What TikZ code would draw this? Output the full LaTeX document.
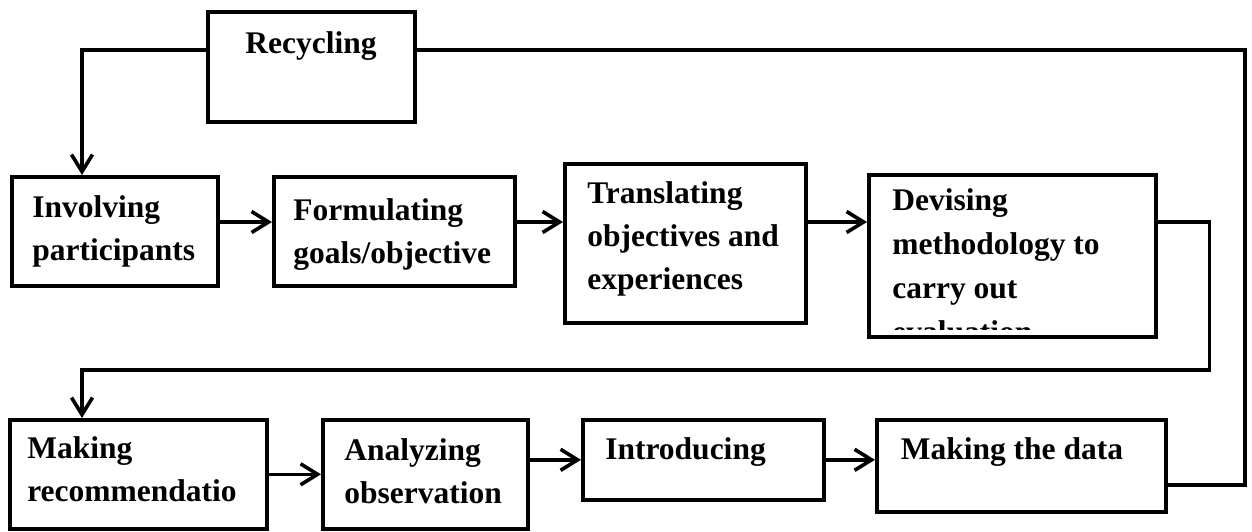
\documentclass[tikz,border=0pt]{standalone}
\usepackage{fontspec}
\setmainfont{Liberation Serif}
\usetikzlibrary{arrows.meta}

\begin{document}
\begin{tikzpicture}[x=1pt,y=-1pt,
	stage/.style={draw, line width=3.6pt, anchor=north west, inner ysep=0pt, align=flush left,
		font=\bfseries\fontsize{31.5}{43}\selectfont},
	flow/.style={line width=3.6pt, -{Straight Barb[length=17pt,width=21pt]}},
	link/.style={line width=3.6pt}]
	\useasboundingbox (0,0) rectangle (1252,531);
	%Levels of the connectors
	\coordinate (top) at (1245,50);
	\coordinate (rowone) at (0,222);
	\coordinate (back) at (82,370);
	\coordinate (rowtwo) at (0,485);

	%Recycling box at the top
	\node (rec) [stage, minimum width=207pt, minimum height=110pt, inner xsep=37.5pt,
		text width=132pt, text height=41.5pt, text depth=68.5pt] at (206,10) {Recycling};

	%First row
	\node (inv) [stage, minimum width=206pt, minimum height=109pt, inner xsep=20.5pt,
		text width=165pt, text height=40.5pt, text depth=68.5pt] at (10,175) {Involving\\participants};
	\node (form) [stage, minimum width=241pt, minimum height=109pt, inner xsep=19.5pt,
		text width=202pt, text height=44pt, text depth=65pt] at (272,175) {Formulating\\goals/objective};
	\node (tra) [stage, minimum width=241pt, minimum height=159pt, inner xsep=22.5pt,
		text width=196pt, text height=39.5pt, text depth=119.5pt] at (563,162) {Translating\\objectives and\\experiences};
	\node (dev) [stage, minimum width=287pt, minimum height=162pt] at (867,173) {};
	%Text of the last box runs out of it
	\begin{scope}
		\clip ([xshift=3.6pt,yshift=-3.6pt]dev.north west) rectangle ([xshift=-3.6pt,yshift=9.6pt]dev.south east);
		\node (devtext) [stage, draw=none, inner xsep=23.5pt, text width=240pt, text height=35.5pt,
			font=\bfseries\fontsize{31.5}{44}\selectfont] at (dev.north west) {Devising\\methodology to\\carry out\\evaluation};
	\end{scope}

	%Second row
	\node (mrec) [stage, minimum width=257pt, minimum height=109pt, inner xsep=17.5pt,
		text width=222pt, text height=38.5pt, text depth=70.5pt] at (8,418) {Making\\recommendatio};
	\node (ana) [stage, minimum width=205pt, minimum height=109pt, inner xsep=21.5pt,
		text width=162pt, text height=40.5pt, text depth=68.5pt] at (321,418) {Analyzing\\observation};
	\node (intro) [stage, minimum width=241pt, minimum height=80pt, inner xsep=22.5pt,
		text width=196pt, text height=39.5pt, text depth=40.5pt] at (581,418) {Introducing};
	\node (mdata) [stage, minimum width=289pt, minimum height=92pt, inner xsep=24pt,
		text width=241pt, text height=39.5pt, text depth=52.5pt] at (875,418) {Making the data};

	%Arrows of the first row
	\draw [flow] (inv.east |- rowone) -- (form.west |- rowone);
	\draw [flow] (form.east |- rowone) -- (tra.west |- rowone);
	\draw [flow] (tra.east |- rowone) -- (dev.west |- rowone);
	%Back to the second row
	\draw [flow] (dev.east |- rowone) -- ++(52,0) |- (back) -- (back |- mrec.north);

	%Arrows of the second row
	\draw [flow] (mrec.east) -- (ana.west);
	\draw [flow] (ana.east |- intro.west) -- (intro.west);
	\draw [flow] (intro.east) -- (mdata.west |- intro.east);

	%Loop through recycling
	\draw [link] (mdata.east |- rowtwo) -| (top) -- (rec.east |- top);
	\draw [flow] (rec.west |- top) -| (back |- inv.north);
\end{tikzpicture}
\end{document}
